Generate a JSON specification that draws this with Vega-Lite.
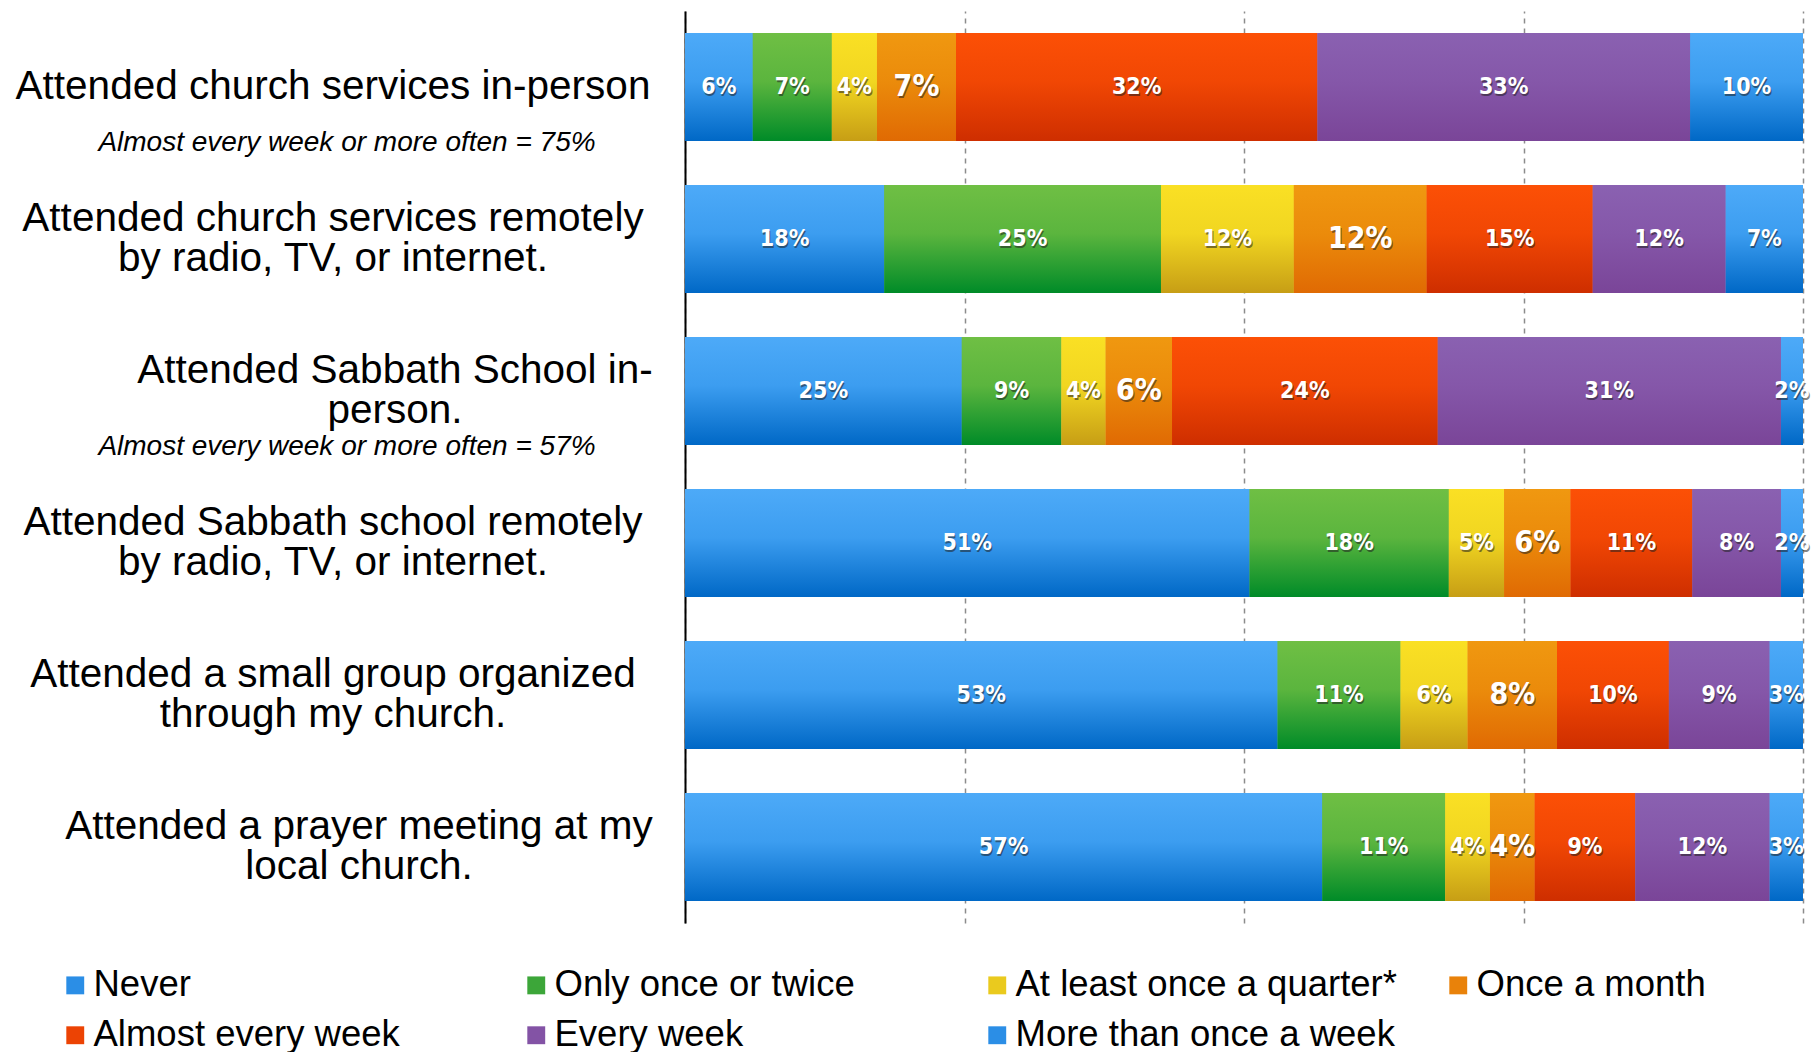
{
  "$schema": "https://vega.github.io/schema/vega-lite/v6.json",
  "padding": {"left": 0, "top": 11, "right": 17, "bottom": 0},
  "background": "white",
  "spacing": 19,
  "datasets": {
    "bars": [
      {"q": "Attended church services in-person", "resp": "Never", "k": 1, "value": 0.06},
      {"q": "Attended church services in-person", "resp": "Only once or twice", "k": 2, "value": 0.07},
      {"q": "Attended church services in-person", "resp": "At least once a quarter*", "k": 3, "value": 0.04},
      {"q": "Attended church services in-person", "resp": "Once a month", "k": 4, "value": 0.07},
      {"q": "Attended church services in-person", "resp": "Almost every week", "k": 5, "value": 0.32},
      {"q": "Attended church services in-person", "resp": "Every week", "k": 6, "value": 0.33},
      {"q": "Attended church services in-person", "resp": "More than once a week", "k": 7, "value": 0.10},
      {"q": "Attended church services remotely by radio, TV, or internet.", "resp": "Never", "k": 1, "value": 0.18},
      {"q": "Attended church services remotely by radio, TV, or internet.", "resp": "Only once or twice", "k": 2, "value": 0.25},
      {"q": "Attended church services remotely by radio, TV, or internet.", "resp": "At least once a quarter*", "k": 3, "value": 0.12},
      {"q": "Attended church services remotely by radio, TV, or internet.", "resp": "Once a month", "k": 4, "value": 0.12},
      {"q": "Attended church services remotely by radio, TV, or internet.", "resp": "Almost every week", "k": 5, "value": 0.15},
      {"q": "Attended church services remotely by radio, TV, or internet.", "resp": "Every week", "k": 6, "value": 0.12},
      {"q": "Attended church services remotely by radio, TV, or internet.", "resp": "More than once a week", "k": 7, "value": 0.07},
      {"q": "Attended Sabbath School in-person.", "resp": "Never", "k": 1, "value": 0.25},
      {"q": "Attended Sabbath School in-person.", "resp": "Only once or twice", "k": 2, "value": 0.09},
      {"q": "Attended Sabbath School in-person.", "resp": "At least once a quarter*", "k": 3, "value": 0.04},
      {"q": "Attended Sabbath School in-person.", "resp": "Once a month", "k": 4, "value": 0.06},
      {"q": "Attended Sabbath School in-person.", "resp": "Almost every week", "k": 5, "value": 0.24},
      {"q": "Attended Sabbath School in-person.", "resp": "Every week", "k": 6, "value": 0.31},
      {"q": "Attended Sabbath School in-person.", "resp": "More than once a week", "k": 7, "value": 0.02},
      {"q": "Attended Sabbath school remotely by radio, TV, or internet.", "resp": "Never", "k": 1, "value": 0.51},
      {"q": "Attended Sabbath school remotely by radio, TV, or internet.", "resp": "Only once or twice", "k": 2, "value": 0.18},
      {"q": "Attended Sabbath school remotely by radio, TV, or internet.", "resp": "At least once a quarter*", "k": 3, "value": 0.05},
      {"q": "Attended Sabbath school remotely by radio, TV, or internet.", "resp": "Once a month", "k": 4, "value": 0.06},
      {"q": "Attended Sabbath school remotely by radio, TV, or internet.", "resp": "Almost every week", "k": 5, "value": 0.11},
      {"q": "Attended Sabbath school remotely by radio, TV, or internet.", "resp": "Every week", "k": 6, "value": 0.08},
      {"q": "Attended Sabbath school remotely by radio, TV, or internet.", "resp": "More than once a week", "k": 7, "value": 0.02},
      {"q": "Attended a small group organized through my church.", "resp": "Never", "k": 1, "value": 0.53},
      {"q": "Attended a small group organized through my church.", "resp": "Only once or twice", "k": 2, "value": 0.11},
      {"q": "Attended a small group organized through my church.", "resp": "At least once a quarter*", "k": 3, "value": 0.06},
      {"q": "Attended a small group organized through my church.", "resp": "Once a month", "k": 4, "value": 0.08},
      {"q": "Attended a small group organized through my church.", "resp": "Almost every week", "k": 5, "value": 0.10},
      {"q": "Attended a small group organized through my church.", "resp": "Every week", "k": 6, "value": 0.09},
      {"q": "Attended a small group organized through my church.", "resp": "More than once a week", "k": 7, "value": 0.03},
      {"q": "Attended a prayer meeting at my local church.", "resp": "Never", "k": 1, "value": 0.57},
      {"q": "Attended a prayer meeting at my local church.", "resp": "Only once or twice", "k": 2, "value": 0.11},
      {"q": "Attended a prayer meeting at my local church.", "resp": "At least once a quarter*", "k": 3, "value": 0.04},
      {"q": "Attended a prayer meeting at my local church.", "resp": "Once a month", "k": 4, "value": 0.04},
      {"q": "Attended a prayer meeting at my local church.", "resp": "Almost every week", "k": 5, "value": 0.09},
      {"q": "Attended a prayer meeting at my local church.", "resp": "Every week", "k": 6, "value": 0.12},
      {"q": "Attended a prayer meeting at my local church.", "resp": "More than once a week", "k": 7, "value": 0.03}
    ],
    "labels": [
      {"q": "Attended church services in-person", "label": "Attended church services in-person", "note": "Almost every week or more often = 75%"},
      {"q": "Attended church services remotely by radio, TV, or internet.", "label": "Attended church services remotely|by radio, TV, or internet.", "note": ""},
      {"q": "Attended Sabbath School in-person.", "label": "Attended Sabbath School in-|person.", "note": "Almost every week or more often = 57%"},
      {"q": "Attended Sabbath school remotely by radio, TV, or internet.", "label": "Attended Sabbath school remotely|by radio, TV, or internet.", "note": ""},
      {"q": "Attended a small group organized through my church.", "label": "Attended a small group organized|through my church.", "note": ""},
      {"q": "Attended a prayer meeting at my local church.", "label": "Attended a prayer meeting at my|local church.", "note": ""}
    ]
  },
  "hconcat": [
    {
      "width": 666,
      "height": 912,
      "data": {"name": "labels"},
      "encoding": {
        "y": {
          "field": "q", "type": "nominal",
          "sort": ["Attended church services in-person", "Attended church services remotely by radio, TV, or internet.", "Attended Sabbath School in-person.", "Attended Sabbath school remotely by radio, TV, or internet.", "Attended a small group organized through my church.", "Attended a prayer meeting at my local church."],
          "scale": {"paddingInner": 0.29, "paddingOuter": 0.145},
          "axis": null
        }
      },
      "layer": [
        {
          "transform": [{"filter": "!test(/[|]/, datum.label)"}],
          "mark": {"type": "text", "align": "center", "baseline": "middle", "font": "Liberation Sans", "fontSize": 40.5, "color": "#000000"},
          "encoding": {"text": {"field": "label"}}
        },
        {
          "transform": [{"filter": "test(/[|]/, datum.label) && datum.q !== 'Attended Sabbath School in-person.' && datum.q !== 'Attended a prayer meeting at my local church.'"}],
          "mark": {"type": "text", "align": "center", "baseline": "middle", "font": "Liberation Sans", "fontSize": 40.5, "lineHeight": 40, "lineBreak": "|", "dy": -20, "color": "#000000"},
          "encoding": {"text": {"field": "label"}}
        },
        {
          "transform": [{"filter": "datum.q === 'Attended Sabbath School in-person.'"}],
          "mark": {"type": "text", "align": "center", "baseline": "middle", "font": "Liberation Sans", "fontSize": 40.5, "lineHeight": 40, "lineBreak": "|", "dy": -20, "dx": 62, "color": "#000000"},
          "encoding": {"text": {"field": "label"}}
        },
        {
          "transform": [{"filter": "datum.q === 'Attended a prayer meeting at my local church.'"}],
          "mark": {"type": "text", "align": "center", "baseline": "middle", "font": "Liberation Sans", "fontSize": 40.5, "lineHeight": 40, "lineBreak": "|", "dy": -20, "dx": 26, "color": "#000000"},
          "encoding": {"text": {"field": "label"}}
        },
        {
          "mark": {"type": "text", "align": "center", "baseline": "middle", "font": "Liberation Sans", "fontStyle": "italic", "fontSize": 28, "dy": 56, "dx": 14, "color": "#000000"},
          "encoding": {"text": {"field": "note"}}
        }
      ]
    },
    {
      "width": 1118,
      "height": 912,
      "data": {"name": "bars"},
      "transform": [
        {"stack": "value", "groupby": ["q"], "sort": [{"field": "k", "order": "ascending"}], "offset": "normalize", "as": ["x0", "x1"]}
      ],
      "encoding": {
        "y": {
          "field": "q", "type": "nominal",
          "sort": ["Attended church services in-person", "Attended church services remotely by radio, TV, or internet.", "Attended Sabbath School in-person.", "Attended Sabbath school remotely by radio, TV, or internet.", "Attended a small group organized through my church.", "Attended a prayer meeting at my local church."],
          "scale": {"paddingInner": 0.29, "paddingOuter": 0.145},
          "axis": {"labels": false, "ticks": false, "domain": true, "domainColor": "#000000", "domainWidth": 2, "grid": false, "title": null}
        }
      },
      "layer": [
        {
          "mark": {"type": "bar"},
          "encoding": {
            "x": {"field": "x0", "type": "quantitative", "scale": {"domain": [0, 1], "nice": false}, "title": null,
                  "axis": {"values": [0, 0.25, 0.5, 0.75, 1], "grid": true, "gridDash": [5, 5], "gridColor": "#8c8c8c", "gridWidth": 1.5, "labels": false, "ticks": false, "domain": false, "title": null}},
            "x2": {"field": "x1"},
            "color": {
              "field": "resp", "type": "nominal",
              "scale": {
                "domain": ["Never", "Only once or twice", "At least once a quarter*", "Once a month", "Almost every week", "Every week", "More than once a week"],
                "range": ["#2B8EE6", "#3CA639", "#EACA1E", "#E9820A", "#EC4304", "#8353A5", "#2B8EE6"]
              },
              "legend": {
                "orient": "none", "legendX": 57, "legendY": 956, "direction": "horizontal", "columns": 4,
                "title": null, "symbolType": "square", "symbolSize": 320, "symbolStrokeWidth": 0, "symbolOpacity": 1,
                "labelFontSize": 36.5, "labelFont": "Liberation Sans", "labelColor": "#000000", "labelOffset": 0,
                "labelLimit": 600, "rowPadding": 13, "columnPadding": 43, "gridAlign": "all", "padding": 0
              }
            }
          }
        },
        {
          "transform": [{"filter": "datum.resp === 'Never' || datum.resp === 'More than once a week'"}],
          "mark": {"type": "bar", "color": {"gradient": "linear", "x1": 0, "y1": 0, "x2": 0, "y2": 1, "stops": [{"offset": 0, "color": "#4DAAF8"}, {"offset": 0.45, "color": "#3C9DF0"}, {"offset": 1, "color": "#0068C6"}]}},
          "encoding": {"x": {"field": "x0", "type": "quantitative", "title": null}, "x2": {"field": "x1"}}
        },
        {
          "transform": [{"filter": "datum.resp === 'Only once or twice'"}],
          "mark": {"type": "bar", "color": {"gradient": "linear", "x1": 0, "y1": 0, "x2": 0, "y2": 1, "stops": [{"offset": 0, "color": "#6FBF44"}, {"offset": 0.45, "color": "#5BB53E"}, {"offset": 1, "color": "#008B28"}]}},
          "encoding": {"x": {"field": "x0", "type": "quantitative", "title": null}, "x2": {"field": "x1"}}
        },
        {
          "transform": [{"filter": "datum.resp === 'At least once a quarter*'"}],
          "mark": {"type": "bar", "color": {"gradient": "linear", "x1": 0, "y1": 0, "x2": 0, "y2": 1, "stops": [{"offset": 0, "color": "#FAE024"}, {"offset": 0.45, "color": "#F1D621"}, {"offset": 1, "color": "#C79E15"}]}},
          "encoding": {"x": {"field": "x0", "type": "quantitative", "title": null}, "x2": {"field": "x1"}}
        },
        {
          "transform": [{"filter": "datum.resp === 'Once a month'"}],
          "mark": {"type": "bar", "color": {"gradient": "linear", "x1": 0, "y1": 0, "x2": 0, "y2": 1, "stops": [{"offset": 0, "color": "#F09810"}, {"offset": 0.45, "color": "#EB8B0B"}, {"offset": 1, "color": "#E06A03"}]}},
          "encoding": {"x": {"field": "x0", "type": "quantitative", "title": null}, "x2": {"field": "x1"}}
        },
        {
          "transform": [{"filter": "datum.resp === 'Almost every week'"}],
          "mark": {"type": "bar", "color": {"gradient": "linear", "x1": 0, "y1": 0, "x2": 0, "y2": 1, "stops": [{"offset": 0, "color": "#FC5006"}, {"offset": 0.45, "color": "#F14704"}, {"offset": 1, "color": "#CE2E00"}]}},
          "encoding": {"x": {"field": "x0", "type": "quantitative", "title": null}, "x2": {"field": "x1"}}
        },
        {
          "transform": [{"filter": "datum.resp === 'Every week'"}],
          "mark": {"type": "bar", "color": {"gradient": "linear", "x1": 0, "y1": 0, "x2": 0, "y2": 1, "stops": [{"offset": 0, "color": "#8A61B1"}, {"offset": 0.45, "color": "#8557A9"}, {"offset": 1, "color": "#7A4598"}]}},
          "encoding": {"x": {"field": "x0", "type": "quantitative", "title": null}, "x2": {"field": "x1"}}
        },
        {
          "mark": {"type": "text", "align": "center", "baseline": "middle", "font": "Liberation Sans Narrow, DejaVu Sans Condensed, Liberation Sans", "fontWeight": "bold", "color": "#222222", "opacity": 0.55, "dx": 1, "dy": 2},
          "encoding": {
            "x": {"field": "value", "type": "quantitative", "stack": "normalize", "bandPosition": 0.5, "title": null},
            "detail": {"field": "resp"},
            "order": {"field": "k"},
            "text": {"field": "value", "type": "quantitative", "format": ".0%"},
            "size": {"condition": {"test": "datum.resp === 'Once a month'", "value": 30}, "value": 23}
          }
        },
        {
          "mark": {"type": "text", "align": "center", "baseline": "middle", "font": "Liberation Sans Narrow, DejaVu Sans Condensed, Liberation Sans", "fontWeight": "bold", "color": "#ffffff"},
          "encoding": {
            "x": {"field": "value", "type": "quantitative", "stack": "normalize", "bandPosition": 0.5, "title": null},
            "detail": {"field": "resp"},
            "order": {"field": "k"},
            "text": {"field": "value", "type": "quantitative", "format": ".0%"},
            "size": {"condition": {"test": "datum.resp === 'Once a month'", "value": 30}, "value": 23}
          }
        }
      ]
    }
  ],
  "config": {
    "view": {"stroke": null},
    "bar": {"stroke": null}
  }
}
